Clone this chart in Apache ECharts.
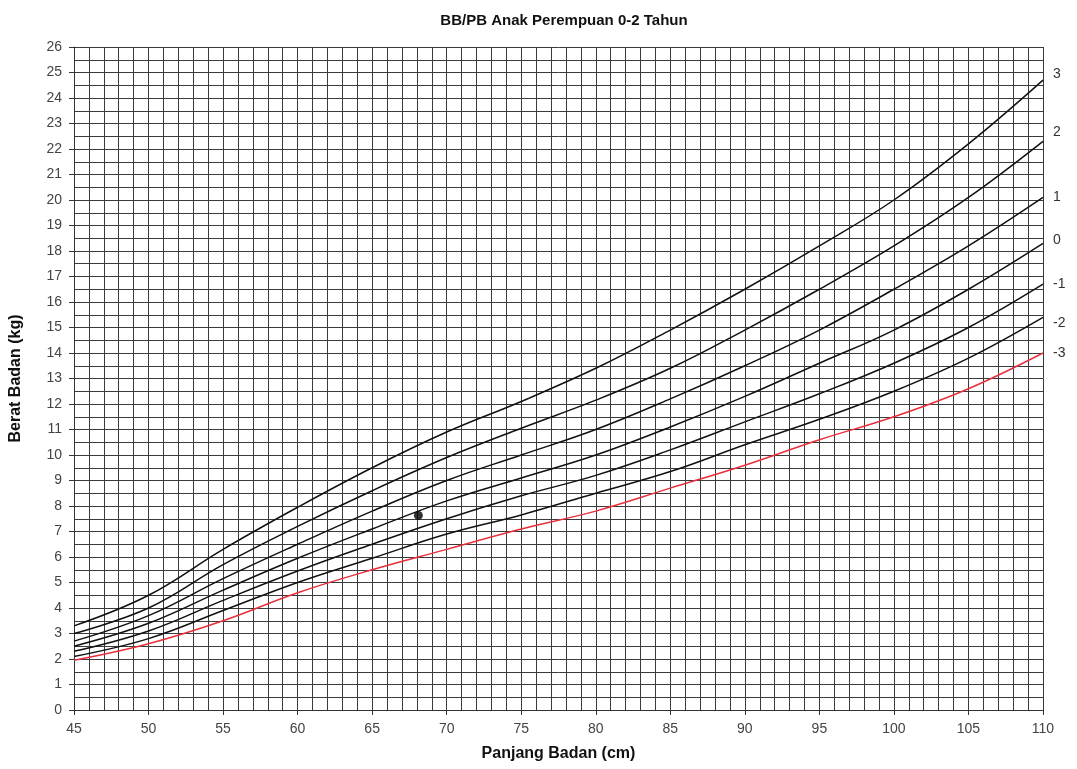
<!DOCTYPE html>
<html>
<head>
<meta charset="utf-8">
<script src="https://cdn.jsdelivr.net/npm/echarts@6/dist/echarts.min.js"></script>
<style>
html,body{margin:0;padding:0;background:#fff;}
#chart{width:1077px;height:769px;}
</style>
</head>
<body>
<div id="chart"></div>
<script>
var lengths = [45, 50, 55, 60, 65, 70, 75, 80, 85, 90, 95, 100, 105, 110];
var sdPlus3  = [3.3, 4.5, 6.3, 7.95, 9.5, 10.9, 12.1, 13.4, 14.9, 16.5, 18.2, 20.0, 22.2, 24.7];
var sdPlus2  = [3.0, 4.0, 5.7, 7.2, 8.6, 9.9, 11.05, 12.15, 13.4, 14.9, 16.5, 18.2, 20.1, 22.3];
var sdPlus1  = [2.7, 3.7, 5.15, 6.5, 7.8, 9.0, 10.0, 11.0, 12.2, 13.5, 14.9, 16.5, 18.2, 20.1];
var sdMedian = [2.5, 3.4, 4.7, 5.95, 7.1, 8.2, 9.1, 10.0, 11.1, 12.3, 13.6, 14.9, 16.5, 18.3];
var sdMinus1 = [2.3, 3.1, 4.3, 5.45, 6.5, 7.5, 8.4, 9.2, 10.2, 11.3, 12.4, 13.6, 15.0, 16.7];
var sdMinus2 = [2.1, 2.8, 3.9, 5.0, 5.95, 6.9, 7.65, 8.5, 9.35, 10.4, 11.4, 12.5, 13.8, 15.4];
var sdMinus3 = [1.95, 2.6, 3.5, 4.6, 5.5, 6.3, 7.1, 7.8, 8.7, 9.6, 10.6, 11.5, 12.6, 14.0];
var curveLabels = ['3', '2', '1', '0', '-1', '-2', '-3'];
var childPoint = [68.1, 7.63];

var curves = [sdPlus3, sdPlus2, sdPlus1, sdMedian, sdMinus1, sdMinus2, sdMinus3];
var labelOffsets = [[0, -6], [0, -9], [0, 0], [0, -3], [0, 0], [0, 6], [0, 0]];

function pairs(ys) {
  return lengths.map(function (x, i) { return [x, ys[i]]; });
}

var font = 'Liberation Sans, Arial, sans-serif';
var series = curves.map(function (ys, i) {
  var red = (i === curves.length - 1);
  return {
    type: 'line',
    data: pairs(ys),
    smooth: 0.4,
    showSymbol: false,
    silent: true,
    lineStyle: { color: red ? '#e8303c' : '#111', width: 1.5 },
    endLabel: {
      show: true,
      formatter: curveLabels[i],
      color: '#333',
      fontFamily: font,
      fontSize: 14,
      distance: 10,
      offset: labelOffsets[i]
    },
    z: 3
  };
});
series.push({
  type: 'scatter',
  data: [childPoint],
  symbolSize: 9,
  itemStyle: { color: '#000' },
  z: 5
});

var chart = echarts.init(document.getElementById('chart'));
var gridLine = { show: true, lineStyle: { color: '#3a3a3a', width: 1 } };
chart.setOption({
  animation: false,
  title: {
    text: 'BB/PB Anak Perempuan 0-2 Tahun',
    left: 559, top: 8, textAlign: 'center',
    textStyle: { fontFamily: font, fontSize: 15, fontWeight: 'bold', color: '#111' }
  },
  grid: { left: 74, right: 34, top: 47, bottom: 59 },
  xAxis: {
    type: 'value', min: 45, max: 110, interval: 5,
    name: 'Panjang Badan (cm)', nameLocation: 'middle', nameGap: 36,
    nameTextStyle: { fontFamily: font, fontSize: 16, fontWeight: 'bold', color: '#111' },
    axisLine: { show: true, lineStyle: { color: '#333' } },
    axisTick: { show: true, length: 5, lineStyle: { color: '#333' } },
    axisLabel: { color: '#444', fontSize: 14, fontFamily: font, margin: 12 },
    splitLine: gridLine,
    minorTick: { show: false, splitNumber: 5 },
    minorSplitLine: gridLine
  },
  yAxis: {
    type: 'value', min: 0, max: 26, interval: 1,
    name: 'Berat Badan (kg)', nameLocation: 'middle', nameGap: 50,
    nameTextStyle: { fontFamily: font, fontSize: 16, fontWeight: 'bold', color: '#111' },
    axisLine: { show: true, lineStyle: { color: '#333' } },
    axisTick: { show: true, length: 5, lineStyle: { color: '#333' } },
    axisLabel: { color: '#444', fontSize: 14, fontFamily: font, margin: 12 },
    splitLine: gridLine,
    minorTick: { show: false, splitNumber: 2 },
    minorSplitLine: gridLine
  },
  series: series
});
</script>
</body>
</html>
